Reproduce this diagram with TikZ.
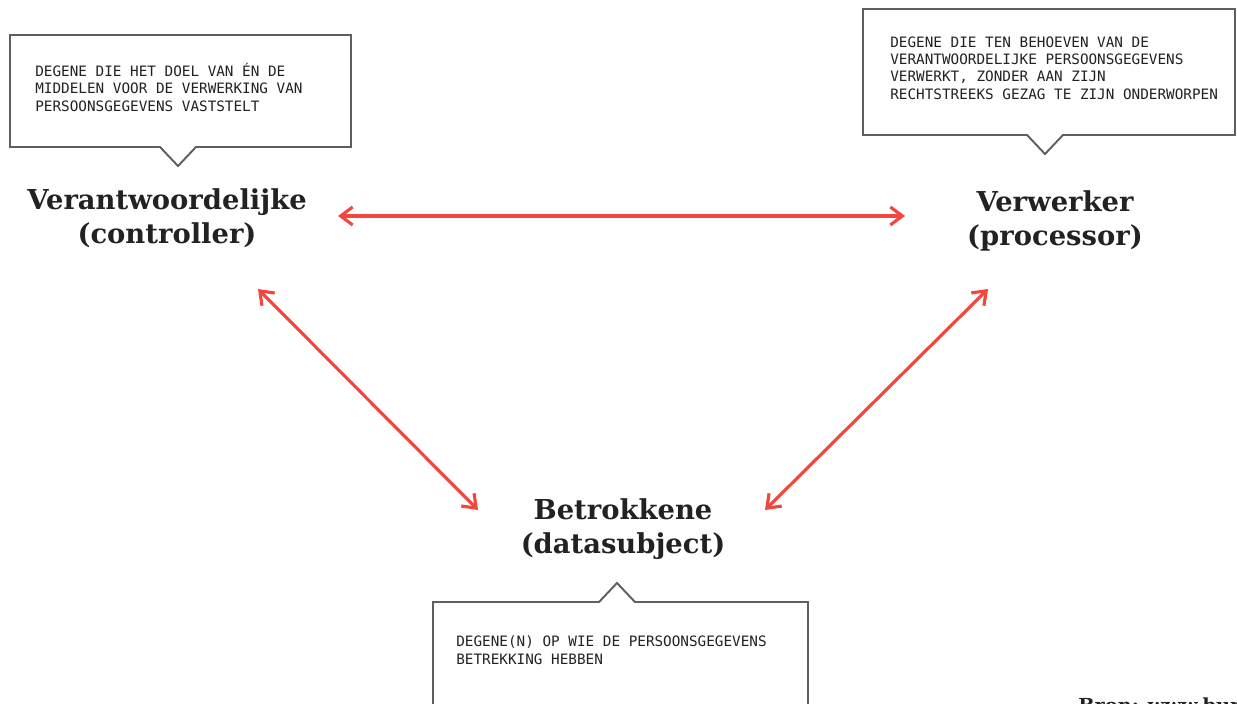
\documentclass[tikz,border=0pt]{standalone}
\usepackage{fontspec}
\setmainfont{DejaVu Serif}
\setmonofont{DejaVu Sans Mono}
\usetikzlibrary{arrows.meta}
\definecolor{linkred}{RGB}{240,72,62}
\definecolor{notegray}{RGB}{95,95,95}
\definecolor{titleblack}{RGB}{34,34,34}
% callout with the pointer under the box: x1 y1 x2 y2 tipx
\newcommand{\notedown}[5]{
\draw[noteline] (#1,#2) -- (#3,#2) -- (#3,#4) -- ({#5+18},#4) -- (#5,{#4+19})
    -- ({#5-18},#4) -- (#1,#4) -- cycle;
}
% callout with the pointer above the box: x1 y1 x2 y2 tipx
\newcommand{\noteup}[5]{
\draw[noteline] (#1,#2) -- ({#5-18},#2) -- (#5,{#2-19}) -- ({#5+18},#2)
    -- (#3,#2) -- (#3,#4) -- (#1,#4) -- cycle;
}

\begin{document}
\begin{tikzpicture}[x=0.02cm,y=-0.02cm,
    title/.style={font=\bfseries\fontsize{15.6}{19.4}\selectfont,text=titleblack,
        align=center,inner sep=2pt},
    note/.style={font=\ttfamily\fontsize{8.15}{9.85}\selectfont,text=titleblack,
        align=left,anchor=base west,inner sep=0pt},
    noteline/.style={draw=notegray,line width=1.1pt,fill=white},
    link/.style={draw=linkred,line width=1.8pt,
        {Straight Barb[length=2.4mm,width=3.6mm]}-{Straight Barb[length=2.4mm,width=3.6mm]}}]
\useasboundingbox (0,0) rectangle (1237,703);
\clip (0,0) rectangle (1237,703);

% callouts
\notedown{10}{35}{351}{147}{178}
\notedown{863}{9}{1235}{135}{1045}
\noteup{433}{602}{808}{730}{617}

% base anchor sits on the last line
\node[note] (ctrlnote) at (35,111) {DEGENE DIE HET DOEL VAN ÉN DE\\
    MIDDELEN VOOR DE VERWERKING VAN\\PERSOONSGEGEVENS VASTSTELT};
\node[note] (procnote) at (890,99) {DEGENE DIE TEN BEHOEVEN VAN DE\\
    VERANTWOORDELIJKE PERSOONSGEGEVENS\\VERWERKT, ZONDER AAN ZIJN\\
    RECHTSTREEKS GEZAG TE ZIJN ONDERWORPEN};
\node[note] (subjnote) at (456,664) {DEGENE(N) OP WIE DE PERSOONSGEGEVENS\\
    BETREKKING HEBBEN};

% roles
\node[title] (ctrl) at (167,218) {Verantwoordelijke\\(controller)};
\node[title] (proc) at (1055,221) {Verwerker\\(processor)};
\node[title] (subj) at (623,529) {Betrokkene\\(datasubject)};

% relations
\draw[link] ([shift={(171,-2)}]ctrl.center) -- ([shift={(-150,-5)}]proc.center);
\draw[link] ([shift={(91,71)}]ctrl.center) -- ([shift={(-145,-19)}]subj.center);
\draw[link] ([shift={(-67,68)}]proc.center) -- ([shift={(142,-19)}]subj.center);

\node[anchor=north west,inner sep=0pt,text=titleblack,
    font=\bfseries\fontsize{11}{13}\selectfont] (source) at (1078,697) {Bron: www.bure};
\end{tikzpicture}
\end{document}
